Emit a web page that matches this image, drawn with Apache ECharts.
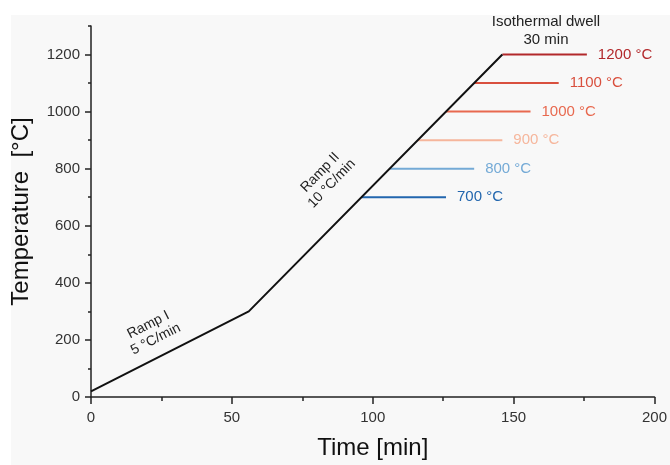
<!DOCTYPE html>
<html>
<head>
<meta charset="utf-8">
<script src="https://cdn.jsdelivr.net/npm/echarts@6/dist/echarts.min.js"></script>
<style>
  html, body { margin: 0; padding: 0; background: #fff; }
  #main { width: 670px; height: 465px; }
</style>
</head>
<body>
<div id="main"></div>
<script>
// heating ramp (time in min, temperature in °C)
const rampTime = [0, 56, 146];
const rampTemp = [20, 300, 1200];

// isothermal dwell segments, 30 min each
const dwellTemp  = [700, 800, 900, 1000, 1100, 1200];
const dwellStart = [96, 106, 116, 126, 136, 146];
const dwellEnd   = [126, 136, 146, 156, 166, 176];
const dwellLabel = ['700 °C', '800 °C', '900 °C', '1000 °C', '1100 °C', '1200 °C'];
const dwellColor = ['#2266ae', '#74aad6', '#f6b69c', '#e8694f', '#d9503e', '#b2282b'];

const xTicks = [0, 50, 100, 150, 200];
const yTicks = [0, 200, 400, 600, 800, 1000, 1200];

let chart = echarts.init(document.getElementById('main'));

let series = [];
dwellTemp.forEach((t, i) => {
    series.push({
        type: 'line',
        data: [[dwellStart[i], t], [dwellEnd[i], t]],
        symbol: 'none',
        silent: true,
        lineStyle: { color: dwellColor[i], width: 2 },
        endLabel: {
            show: true,
            formatter: dwellLabel[i],
            color: dwellColor[i],
            fontSize: 15,
            distance: 11,
            fontFamily: 'Liberation Sans'
        }
    });
});
series.push({
    type: 'line',
    data: rampTime.map((x, i) => [x, rampTemp[i]]),
    symbol: 'none',
    silent: true,
    lineStyle: { color: '#111', width: 2 }
});

const axisText = { color: '#333', fontSize: 15, fontFamily: 'Liberation Sans', formatter: v => String(v) };

chart.setOption({
    backgroundColor: '#fff',
    animation: false,
    textStyle: { fontFamily: 'Liberation Sans' },
    grid: { left: 91, right: 15, top: 26, bottom: 62 },
    xAxis: {
        type: 'value',
        min: 0, max: 200, interval: 50,
        name: 'Time [min]',
        nameLocation: 'middle',
        nameGap: 39,
        nameTextStyle: { fontSize: 24, color: '#111' },
        axisLine: { lineStyle: { color: '#222', width: 1.5 } },
        axisTick: { length: 7, lineStyle: { color: '#222', width: 1.5 } },
        minorTick: { show: true, splitNumber: 2, length: 4, lineStyle: { color: '#222', width: 1.5 } },
        axisLabel: { ...axisText, margin: 13, customValues: xTicks },
        splitLine: { show: false }
    },
    yAxis: [{
        type: 'value',
        min: 0, max: 1300, interval: 100,
        name: 'Temperature  [°C]',
        nameLocation: 'middle',
        nameGap: 58,
        nameTextStyle: { fontSize: 24, color: '#111' },
        axisLine: { lineStyle: { color: '#222', width: 1.5 } },
        axisTick: { length: 6, customValues: yTicks, lineStyle: { color: '#222', width: 1.5 } },
        axisLabel: { ...axisText, margin: 11, customValues: yTicks },
        splitLine: { show: false }
    }, {
        // minor ticks only
        type: 'value',
        position: 'left',
        min: 0, max: 1300, interval: 100,
        axisLine: { show: false },
        axisTick: { length: 3, lineStyle: { color: '#222', width: 1.5 } },
        axisLabel: { show: false },
        splitLine: { show: false }
    }],
    graphic: [
        { type: 'rect', z: -10, shape: { x: 11, y: 15, width: 670, height: 460 }, style: { fill: '#f8f8f8' } },
        { type: 'text', x: 546, y: 31, style: { text: 'Isothermal dwell\n30 min', fill: '#222', font: '15px Liberation Sans', align: 'center', verticalAlign: 'middle', lineHeight: 18 } },
        { type: 'text', x: 152, y: 332, rotation: 27 * Math.PI / 180, style: { text: 'Ramp I\n5 °C/min', fill: '#222', font: '14px Liberation Sans', align: 'center', verticalAlign: 'middle', lineHeight: 16 } },
        { type: 'text', x: 326, y: 178, rotation: 46 * Math.PI / 180, style: { text: 'Ramp II\n10 °C/min', fill: '#222', font: '14px Liberation Sans', align: 'center', verticalAlign: 'middle', lineHeight: 16 } }
    ],
    series: series
});
</script>
</body>
</html>
